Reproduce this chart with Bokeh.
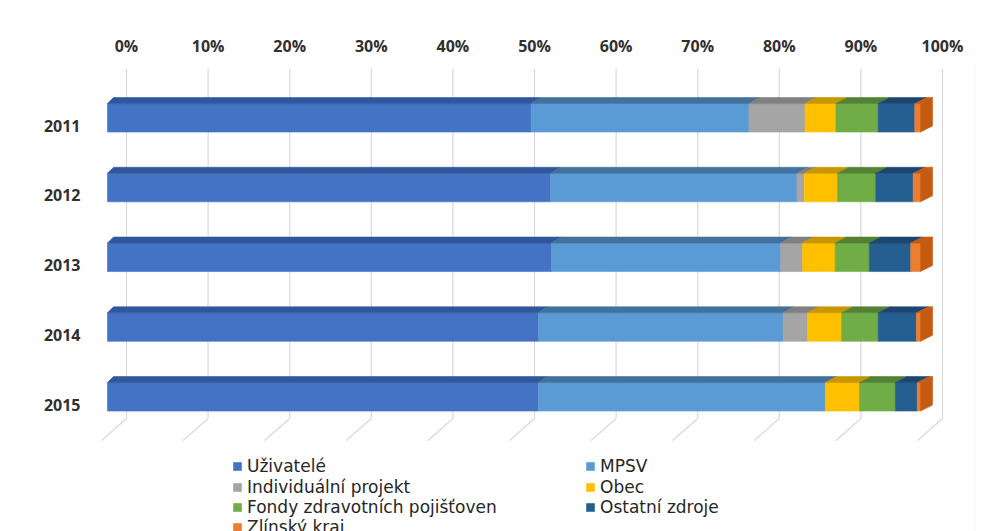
from bokeh.plotting import figure
from bokeh.models import (Range1d, LinearAxis, FixedTicker, Legend, LegendItem,
                          BoxAnnotation, ColumnDataSource)
from bokeh.embed import file_html
from bokeh.resources import INLINE

# ---------------- data ----------------
years = ["2011", "2012", "2013", "2014", "2015"]
series_names = ["Uživatelé", "MPSV", "Individuální projekt", "Obec",
                "Fondy zdravotních pojišťoven", "Ostatní zdroje", "Zlínský kraj"]
uzivatele = [52.1, 54.5, 54.6, 53.0, 53.0]
mpsv = [26.8, 30.3, 28.2, 30.1, 35.3]
individualni = [6.9, 0.9, 2.7, 3.0, 0.0]
obec = [3.8, 4.1, 4.0, 4.2, 4.2]
fondy = [5.2, 4.7, 4.2, 4.5, 4.4]
ostatni = [4.5, 4.6, 5.1, 4.7, 2.7]
zlinsky = [0.7, 0.9, 1.2, 0.5, 0.4]
tick_values = [0, 10, 20, 30, 40, 50, 60, 70, 80, 90, 100]
tick_labels = ["0%", "10%", "20%", "30%", "40%", "50%", "60%", "70%", "80%", "90%", "100%"]

series_values = [uzivatele, mpsv, individualni, obec, fondy, ostatni, zlinsky]
front_colors = ["#4472C4", "#5B9BD5", "#A5A5A5", "#FFC000", "#70AD47", "#255E91", "#ED7D31"]
top_colors = ["#30569C", "#41719C", "#808080", "#C89700", "#548235", "#1C4670", "#C55A11"]

# ---------------- geometry (styles) ----------------
W, H = 986, 531
FL, FR, FT = 88, 975, 62
PX_PER_PCT = 8.13          # front plane
FRONT0 = 107
PX_PER_PCT_BACK = 8.16     # back wall
BACK0 = 126
PX_PER_CAT = 69.75
LABEL_2015_Y = 404

x_front = Range1d((FL - FRONT0) / PX_PER_PCT, (FR - FRONT0) / PX_PER_PCT)
x_back = Range1d((FL - BACK0) / PX_PER_PCT_BACK, (FR - BACK0) / PX_PER_PCT_BACK)
y_rng = Range1d((LABEL_2015_Y - H) / PX_PER_CAT, (LABEL_2015_Y - FT) / PX_PER_CAT)

p = figure(width=W, height=H, output_backend="svg", toolbar_location=None,
           x_range=x_front, y_range=y_rng, x_axis_location=None, y_axis_location=None,
           min_border_left=FL, min_border_right=W - FR, min_border_top=FT,
           min_border_bottom=0)
p.extra_x_ranges = {"back": x_back}
p.outline_line_color = None
p.background_fill_color = "white"
p.border_fill_color = "white"
for g in p.grid:
    g.visible = False

n = len(years)
positions = [n - 1 - i for i in range(n)]   # 2011 at top

# ---------------- back-wall grid lines ----------------
y_grid_top = (LABEL_2015_Y - 68) / PX_PER_CAT
y_floor_back = (LABEL_2015_Y - 418) / PX_PER_CAT
y_floor_front = (LABEL_2015_Y - 440) / PX_PER_CAT
slant = 25 / PX_PER_PCT_BACK
p.segment(x0=tick_values, y0=[y_grid_top] * len(tick_values),
          x1=tick_values, y1=[y_floor_back] * len(tick_values),
          line_color="#D9D9D9", line_width=1.2, x_range_name="back")
p.segment(x0=tick_values, y0=[y_floor_back] * len(tick_values),
          x1=[t - slant for t in tick_values], y1=[y_floor_front] * len(tick_values),
          line_color="#D9D9D9", line_width=1.2, x_range_name="back")

# ---------------- 3D-ish stacked bars ----------------
bar_off = 7.7 / PX_PER_CAT
bar_h = 28.5 / PX_PER_CAT
dy = 6 / PX_PER_CAT


def depth_dx(v):
    return (6 + 6 * v / 100) / PX_PER_PCT


legend_items = {}
cum = [0.0] * n
for k, (name, vals) in enumerate(zip(series_names, series_values)):
    lefts = list(cum)
    rights = [c + v for c, v in zip(cum, vals)]
    ys = [pos + bar_off for pos in positions]
    src = ColumnDataSource(dict(y=ys, left=lefts, right=rights))
    r = p.hbar(y="y", left="left", right="right", height=bar_h, source=src,
               fill_color=front_colors[k], line_color=front_colors[k], line_width=0.6)
    legend_items[name] = r
    # top faces
    xs_t, ys_t = [], []
    for l, rr, yc in zip(lefts, rights, ys):
        if rr - l <= 0:
            continue
        yt = yc + bar_h / 2
        xs_t.append([l, rr, rr + depth_dx(rr), l + depth_dx(l)])
        ys_t.append([yt, yt, yt + dy, yt + dy])
    p.patches(xs=xs_t, ys=ys_t, fill_color=top_colors[k], line_color=top_colors[k],
              line_width=0.6)
    cum = rights

# right side faces
xs_s, ys_s = [], []
for rr, pos in zip(cum, positions):
    yc = pos + bar_off
    yb, yt = yc - bar_h / 2, yc + bar_h / 2
    d = depth_dx(rr)
    xs_s.append([rr, rr + d, rr + d, rr])
    ys_s.append([yb, yb + dy, yt + dy, yt])
p.patches(xs=xs_s, ys=ys_s, fill_color="#C55A11", line_color="#C55A11", line_width=0.6)

# ---------------- axes ----------------
top_axis = LinearAxis(x_range_name="back", ticker=FixedTicker(ticks=tick_values),
                      major_label_overrides={t: s for t, s in zip(tick_values, tick_labels)})
left_axis = LinearAxis(ticker=FixedTicker(ticks=positions),
                       major_label_overrides={pos: y for pos, y in zip(positions, years)})
for ax in (top_axis, left_axis):
    ax.axis_line_color = None
    ax.major_tick_line_color = None
    ax.minor_tick_line_color = None
    ax.major_tick_out = 0
    ax.major_tick_in = 0
    ax.major_label_text_font = "Open Sans"
    ax.major_label_text_font_size = "16px"
    ax.major_label_text_font_style = "bold"
    ax.major_label_text_color = "#303030"
top_axis.major_label_standoff = 6
left_axis.major_label_standoff = 8
p.add_layout(top_axis, "above")
p.add_layout(left_axis, "left")

# ---------------- legend (two columns, one entry per row) ----------------
col_x = [232, 585]
row_y = [466, 487, 507, 527]
legend_layout = [("Uživatelé", 0, 0), ("MPSV", 1, 0),
                 ("Individuální projekt", 0, 1), ("Obec", 1, 1),
                 ("Fondy zdravotních pojišťoven", 0, 2), ("Ostatní zdroje", 1, 2),
                 ("Zlínský kraj", 0, 3)]
ROW_H = 20
for nm, c, rw in legend_layout:
    lg = Legend(items=[LegendItem(label=nm, renderers=[legend_items[nm]])],
                location=(col_x[c] - FL, H - row_y[rw] - ROW_H // 2),
                orientation="vertical")
    lg.glyph_width = 10
    lg.glyph_height = 10
    lg.label_standoff = 5
    lg.label_height = 20
    lg.spacing = 0
    lg.padding = 0
    lg.margin = 0
    lg.border_line_color = None
    lg.background_fill_alpha = 0
    lg.label_text_font = "DejaVu Sans"
    lg.label_text_font_size = "17px"
    lg.label_text_color = "#262626"
    p.add_layout(lg)

# outer frame border (right edge visible inside the frame)
p.add_layout(BoxAnnotation(left=11, right=975, top=11, bottom=600,
                           left_units="canvas", right_units="canvas",
                           top_units="canvas", bottom_units="canvas",
                           fill_alpha=0, line_color="#D0D0D0", line_width=1.5))

open("out.html", "w").write(file_html(p, INLINE))
